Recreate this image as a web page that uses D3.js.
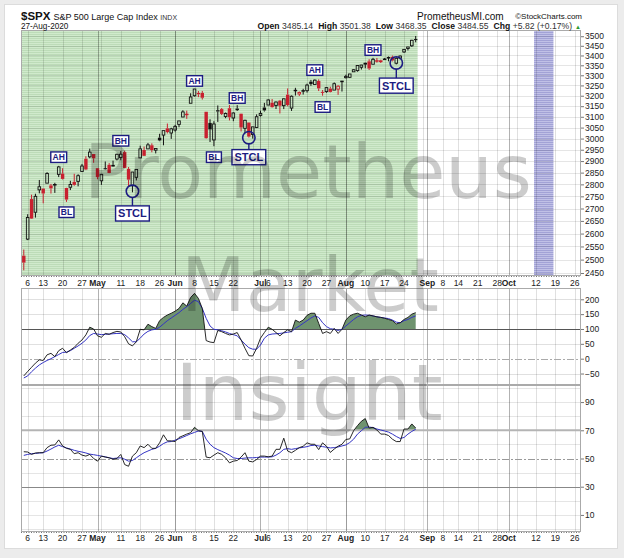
<!DOCTYPE html>
<html>
<head>
<meta charset="utf-8">
<script src="https://cdn.jsdelivr.net/npm/d3@7"></script>
<style>
  html, body { margin: 0; padding: 0; background: #ececec; }
  svg { display: block; }
  .axis text { font-family: "Liberation Sans", Arial, sans-serif; font-size: 8.5px; fill: #222; }
  .axis path { display: none; }
  .axis line { stroke: #777; }
  .hdr { font-family: "Liberation Sans", Arial, sans-serif; fill: #111; }
  .tick-label { font-family: "Liberation Sans", Arial, sans-serif; font-size: 8.5px; fill: #222; }
  .watermark { font-family: "DejaVu Sans", sans-serif; fill: #000; fill-opacity: 0.2; pointer-events: none; }
</style>
</head>
<body>
<div id="chart"></div>
<script>
// ---- trading calendar ----
const firstSession = '2020-04-03';
const lastSession = '2020-10-30';
const holidays = ['2020-04-10', '2020-05-25', '2020-07-03', '2020-09-07'];

// ---- $SPX daily candles, Apr 3 .. Aug 27 2020 ----
const prevClose = 2526.90;
const opens = [
  2514.92, 2578.28, 2738.65, 2685.00, 2776.99, 2782.46, 2805.10, 2795.64, 2799.34, 2842.43,
  2845.62, 2784.81, 2787.89, 2810.42, 2812.64, 2854.65, 2909.96, 2918.46, 2930.91, 2869.09,
  2815.01, 2868.88, 2883.14, 2878.26, 2908.83, 2915.46, 2939.50, 2865.86, 2794.54, 2829.95,
  2913.86, 2948.59, 2953.63, 2969.95, 2948.05, 3004.08, 3015.65, 3046.61, 3025.17, 3038.78,
  3064.78, 3098.90, 3111.56, 3163.84, 3199.92, 3213.32, 3213.42, 3123.53, 3071.04, 2993.76,
  3131.00, 3136.13, 3101.64, 3140.29, 3094.42, 3138.70, 3114.40, 3046.60, 3073.20, 3018.59,
  3050.20, 3105.92, 3143.64, 3155.29, 3166.44, 3153.07, 3176.17, 3152.47, 3205.08, 3141.11,
  3225.98, 3208.36, 3224.21, 3224.29, 3268.52, 3254.86, 3271.64, 3218.58, 3219.84, 3234.27,
  3227.22, 3231.76, 3270.45, 3288.26, 3289.92, 3317.37, 3323.17, 3340.05, 3356.04, 3370.34,
  3355.46, 3372.95, 3368.66, 3380.86, 3387.04, 3392.51, 3360.48, 3386.01, 3418.09, 3435.95,
  3449.97, 3485.14
];
const highs = [
  2538.18, 2676.85, 2756.89, 2760.75, 2818.57, 2782.46, 2851.85, 2801.88, 2806.51, 2879.22,
  2868.98, 2785.54, 2815.10, 2844.90, 2842.71, 2887.72, 2921.15, 2954.86, 2930.91, 2869.09,
  2844.24, 2898.23, 2891.11, 2901.92, 2932.16, 2944.25, 2945.82, 2874.14, 2852.80, 2865.01,
  2968.09, 2964.21, 2980.29, 2978.50, 2956.76, 3021.72, 3036.25, 3068.67, 3049.17, 3062.18,
  3081.07, 3130.94, 3128.91, 3211.72, 3233.13, 3222.71, 3223.27, 3123.53, 3088.42, 3079.76,
  3153.45, 3141.16, 3120.00, 3155.53, 3120.92, 3154.90, 3115.01, 3086.25, 3073.73, 3053.89,
  3111.51, 3128.44, 3165.81, 3182.59, 3184.15, 3171.80, 3179.78, 3186.82, 3235.32, 3200.95,
  3238.28, 3220.39, 3233.52, 3258.61, 3277.29, 3279.32, 3279.99, 3227.26, 3241.43, 3243.72,
  3264.74, 3250.92, 3272.17, 3302.73, 3306.84, 3330.77, 3351.03, 3352.54, 3363.29, 3381.01,
  3387.89, 3387.24, 3378.51, 3387.59, 3395.06, 3399.54, 3390.80, 3399.96, 3432.09, 3444.21,
  3481.07, 3501.38
];
const lows = [
  2459.96, 2574.57, 2657.67, 2663.30, 2762.36, 2721.17, 2805.10, 2761.54, 2764.32, 2830.88,
  2820.43, 2727.10, 2775.95, 2794.26, 2791.76, 2852.89, 2860.71, 2912.16, 2892.47, 2821.61,
  2797.85, 2863.55, 2847.65, 2876.48, 2902.88, 2903.44, 2869.59, 2793.15, 2766.64, 2816.78,
  2913.86, 2922.35, 2953.63, 2938.57, 2933.59, 2988.17, 2969.75, 3023.40, 2998.61, 3031.54,
  3051.64, 3098.90, 3090.41, 3163.84, 3196.00, 3193.11, 3181.49, 2999.49, 2984.47, 2965.66,
  3076.06, 3108.03, 3093.51, 3083.11, 3079.39, 3127.12, 3032.13, 3024.01, 3004.63, 2999.74,
  3047.83, 3101.17, 3124.52, 3155.29, 3142.93, 3136.53, 3115.70, 3136.22, 3149.43, 3127.66,
  3200.76, 3198.59, 3205.65, 3215.16, 3247.77, 3253.10, 3222.66, 3200.05, 3214.25, 3216.17,
  3227.22, 3204.13, 3220.26, 3284.53, 3286.37, 3317.37, 3318.14, 3328.72, 3335.44, 3326.44,
  3355.46, 3363.35, 3361.64, 3379.22, 3370.15, 3369.66, 3354.69, 3379.31, 3413.13, 3425.84,
  3444.15, 3468.35
];
const closes = [
  2488.65, 2663.68, 2659.41, 2749.98, 2789.82, 2761.63, 2846.06, 2783.36, 2799.55, 2874.56,
  2823.16, 2736.56, 2799.31, 2797.80, 2836.74, 2878.48, 2863.39, 2939.51, 2912.43, 2830.71,
  2842.74, 2868.44, 2848.42, 2881.19, 2929.80, 2930.32, 2870.12, 2820.00, 2852.50, 2863.70,
  2953.91, 2922.94, 2971.61, 2948.51, 2955.45, 2991.77, 3036.13, 3029.73, 3044.31, 3055.73,
  3080.82, 3122.87, 3112.35, 3193.93, 3232.39, 3207.18, 3190.14, 3002.10, 3041.31, 3066.59,
  3124.74, 3113.49, 3115.34, 3097.74, 3117.86, 3131.29, 3050.33, 3083.76, 3009.05, 3053.24,
  3100.29, 3115.86, 3130.01, 3179.72, 3145.32, 3169.94, 3152.05, 3185.04, 3155.22, 3197.52,
  3226.56, 3215.57, 3224.73, 3251.84, 3257.30, 3276.02, 3235.66, 3215.63, 3239.41, 3218.44,
  3258.44, 3246.22, 3271.12, 3294.61, 3306.51, 3327.77, 3349.16, 3351.28, 3360.47, 3333.69,
  3380.35, 3373.43, 3372.85, 3381.99, 3389.78, 3374.85, 3385.51, 3397.16, 3431.28, 3443.62,
  3478.73, 3484.55
];

// ---- middle panel oscillator (black) and its signal (blue) ----
const oscValues = [
  -58, -43, -29, -15, -4, -6, 13, 18, 7, 27,
  35, 20, 29, 38, 52, 63, 80, 106, 100, 77,
  72, 85, 82, 88, 92, 90, 74, 50, 43, 57,
  99, 97, 116, 108, 102, 128, 139, 147, 153, 160,
  169, 188, 177, 206, 220, 203, 169, 61, 56, 54,
  95, 91, 85, 80, 83, 88, 63, 35, 10, 9,
  35, 69, 88, 106, 99, 88, 77, 88, 97, 91,
  130, 123, 130, 146, 153, 153, 119, 85, 91, 85,
  102, 85, 99, 130, 144, 150, 153, 147, 141, 147,
  144, 141, 139, 136, 132, 128, 117, 121, 132, 139,
  150, 155
];
const oscSignal = [
  -65, -58, -44, -32, -21, -13, -6, 0, 7, 14,
  21, 22, 27, 35, 43, 52, 63, 78, 85, 83,
  81, 82, 83, 84, 85, 85, 81, 70, 57, 57,
  69, 83, 92, 97, 99, 106, 117, 128, 137, 146,
  155, 166, 175, 186, 197, 192, 169, 136, 110, 99,
  97, 94, 90, 85, 81, 77, 63, 49, 37, 32,
  32, 46, 69, 80, 83, 84, 85, 87, 89, 91,
  102, 110, 119, 128, 137, 144, 139, 121, 108, 101,
  99, 95, 99, 110, 121, 132, 141, 146, 147, 146,
  144, 141, 139, 137, 135, 130, 123, 121, 128, 132,
  139, 144
];

// ---- lower panel RSI (black) and its signal (blue) ----
const rsiValues = [
  54.8, 54.6, 52.9, 53.9, 54.1, 54.1, 57.7, 59.4, 59.6, 63.2,
  58.9, 57.2, 56.5, 53.4, 54.1, 52.4, 51.7, 52.9, 50.0, 48.1,
  51.7, 51.0, 50.5, 49.5, 50.0, 52.9, 45.7, 44.5, 51.7, 54.1,
  58.9, 57.7, 60.1, 57.2, 57.2, 61.1, 66.8, 62.5, 62.5, 62.0,
  64.9, 66.1, 67.3, 68.3, 72.1, 69.7, 69.2, 51.0, 50.5, 52.4,
  54.1, 52.9, 50.5, 46.9, 48.1, 48.6, 51.0, 54.1, 48.1, 47.6,
  49.3, 51.7, 51.7, 51.2, 51.7, 56.5, 56.5, 64.4, 55.3, 54.1,
  55.8, 57.7, 58.7, 61.1, 60.1, 60.1, 56.3, 61.1, 58.7, 54.3,
  56.7, 58.7, 60.1, 63.5, 63.9, 69.7, 73.3, 76.4, 78.3, 71.6,
  72.1, 70.2, 67.3, 67.3, 66.3, 63.7, 62.0, 62.0, 70.9, 70.9,
  74.5, 71.6
];
const rsiSignal = [
  52.2, 52.9, 53.4, 53.6, 53.9, 54.1, 55.3, 56.7, 58.2, 59.4,
  58.4, 57.5, 56.7, 55.8, 55.1, 54.6, 53.9, 53.1, 52.7, 52.2,
  51.7, 51.2, 50.5, 50.0, 50.3, 50.5, 49.5, 48.1, 48.6, 50.5,
  52.4, 54.1, 55.3, 56.5, 57.2, 58.7, 60.6, 61.8, 62.0, 63.0,
  64.0, 65.1, 66.3, 67.5, 68.5, 69.5, 69.2, 63.7, 60.1, 57.7,
  56.3, 55.1, 53.9, 52.4, 50.5, 50.0, 50.0, 50.3, 50.5, 50.5,
  50.7, 51.0, 51.0, 51.0, 51.2, 52.4, 54.1, 56.5, 57.0, 56.5,
  57.0, 57.5, 57.9, 58.4, 59.2, 59.4, 58.9, 58.4, 58.0, 57.5,
  57.7, 58.2, 58.9, 59.6, 61.3, 63.7, 67.3, 69.7, 72.1, 72.3,
  71.9, 70.9, 70.2, 69.5, 68.7, 67.3, 65.6, 64.2, 64.9, 67.3,
  69.2, 70.7
];

// ---- chart annotations ----
const noteLabels = ['AH', 'BL', 'BH', 'AH', 'BL', 'BH', 'AH', 'BL', 'BH'];
const noteDates = ['2020-04-17', '2020-04-21', '2020-05-11', '2020-06-08', '2020-06-15',
                   '2020-06-23', '2020-07-22', '2020-07-24', '2020-08-12'];
const notePrices = [2917, 2685, 2990, 3272, 2917, 3189, 3326, 3146, 3428];
const stclDates = ['2020-05-14', '2020-06-26', '2020-08-20'];
const stclLows = [2771, 3004, 3362];
const stclBoxPrices = [2680, 2917, 3249];

// ---- axes ----
const tickDates = ['2020-04-06', '2020-04-13', '2020-04-20', '2020-04-27', '2020-05-01', '2020-05-11',
  '2020-05-18', '2020-05-26', '2020-06-01', '2020-06-08', '2020-06-15', '2020-06-22', '2020-07-01',
  '2020-07-06', '2020-07-13', '2020-07-20', '2020-07-27', '2020-08-03', '2020-08-10', '2020-08-17',
  '2020-08-24', '2020-09-01', '2020-09-08', '2020-09-14', '2020-09-21', '2020-09-28', '2020-10-01',
  '2020-10-12', '2020-10-19', '2020-10-26'];
const tickLabels = ['6', '13', '20', '27', 'May', '11', '18', '26', 'Jun', '8', '15', '22', 'Jul',
  '6', '13', '20', '27', 'Aug', '10', '17', '24', 'Sep', '8', '14', '21', '28', 'Oct', '12', '19', '26'];
const monthLabels = ['May', 'Jun', 'Jul', 'Aug', 'Sep', 'Oct'];
const priceTicks = [2450, 2500, 2550, 2600, 2650, 2700, 2750, 2800, 2850, 2900, 2950, 3000,
  3050, 3100, 3150, 3200, 3250, 3300, 3350, 3400, 3450, 3500];
const oscTicks = [-50, 0, 50, 100, 150, 200];
const rsiTicks = [10, 30, 50, 70, 90];
const rsiGrid = [0, 10, 20, 30, 40, 50, 60, 70, 80, 90, 100];
const bandStart = '2020-10-12';
const bandEnd = '2020-10-16';

// ---- calendar helpers ----
const fmtDay = d3.utcFormat('%Y-%m-%d');
const parseDay = d3.utcParse('%Y-%m-%d');
const sessions = d3.utcDays(parseDay(firstSession), d3.utcDay.offset(parseDay(lastSession), 1))
  .filter(d => d.getUTCDay() % 6 !== 0 && !holidays.includes(fmtDay(d)));
const sessionIndex = new Map(sessions.map((d, i) => [fmtDay(d), i]));
const at = s => sessionIndex.get(s);

const weekStarts = sessions.map((d, i) => i).filter(i => i > 0 &&
  +d3.utcMonday.floor(sessions[i]) !== +d3.utcMonday.floor(sessions[i - 1]));
const monthStarts = sessions.map((d, i) => i).filter(i => i > 0 &&
  sessions[i].getUTCMonth() !== sessions[i - 1].getUTCMonth());

// ---- layout ----
const width = 624;
const height = 558;
const plot = { left: 21, right: 581 };
const pricePanel = { top: 30, bottom: 276 };
const oscPanel = { top: 288, bottom: 385 };
const rsiPanel = { top: 385, bottom: 532 };

const navy = '#1c1c82';
const red = '#c8202f';

const x = d3.scaleLinear().domain([-0.72, 143.6]).range([plot.left, plot.right]);
const yPrice = d3.scaleLog().domain([2439, 3533]).range([pricePanel.bottom, pricePanel.top]);
const yOsc = d3.scaleLinear().domain([-88.6, 238]).range([oscPanel.bottom, oscPanel.top]);
const yRsi = d3.scaleLinear().domain([-2.1, 102.1]).range([rsiPanel.bottom, rsiPanel.top]);

const svg = d3.select('#chart').append('svg')
  .attr('width', width)
  .attr('height', height);

const defs = svg.append('defs');

const greenPattern = defs.append('pattern')
  .attr('id', 'greenStripes')
  .attr('patternUnits', 'userSpaceOnUse')
  .attr('width', 8).attr('height', 2);
greenPattern.append('rect').attr('width', 8).attr('height', 2).attr('fill', '#d0eacc');
greenPattern.append('rect').attr('width', 8).attr('height', 1).attr('fill', '#bddcb8');

const purplePattern = defs.append('pattern')
  .attr('id', 'purpleStripes')
  .attr('patternUnits', 'userSpaceOnUse')
  .attr('width', 8).attr('height', 2);
purplePattern.append('rect').attr('width', 8).attr('height', 2).attr('fill', '#c0c0e6');
purplePattern.append('rect').attr('width', 8).attr('height', 1).attr('fill', '#a2a2d6');

[['clipPrice', pricePanel], ['clipOsc', oscPanel], ['clipRsi', rsiPanel]].forEach(([id, p]) => {
  defs.append('clipPath').attr('id', id).append('rect')
    .attr('x', plot.left).attr('y', p.top)
    .attr('width', plot.right - plot.left).attr('height', p.bottom - p.top);
});
defs.append('clipPath').attr('id', 'clipOscAbove').append('rect')
  .attr('x', plot.left).attr('y', oscPanel.top)
  .attr('width', plot.right - plot.left).attr('height', yOsc(100) - oscPanel.top);
defs.append('clipPath').attr('id', 'clipRsiAbove').append('rect')
  .attr('x', plot.left).attr('y', rsiPanel.top)
  .attr('width', plot.right - plot.left).attr('height', yRsi(70) - rsiPanel.top);

// frame
svg.append('rect')
  .attr('x', 4.5).attr('y', 4.5)
  .attr('width', 613).attr('height', 544)
  .attr('fill', '#fff')
  .attr('stroke', '#dcdcdc');

// ---- price panel backgrounds ----
svg.append('rect')
  .attr('x', plot.left)
  .attr('y', pricePanel.top)
  .attr('width', x(closes.length - 0.5) - plot.left)
  .attr('height', pricePanel.bottom - pricePanel.top)
  .attr('fill', 'url(#greenStripes)');

svg.append('rect')
  .attr('x', x(at(bandStart) - 0.5))
  .attr('y', pricePanel.top)
  .attr('width', x(at(bandEnd) + 0.5) - x(at(bandStart) - 0.5))
  .attr('height', pricePanel.bottom - pricePanel.top)
  .attr('fill', 'url(#purpleStripes)');

// ---- grid ----
const grid = svg.append('g').attr('class', 'grid');

[pricePanel, oscPanel, rsiPanel].forEach(p => {
  grid.append('g').selectAll('line')
    .data(weekStarts)
    .join('line')
    .attr('x1', d => Math.round(x(d)) + 0.5)
    .attr('x2', d => Math.round(x(d)) + 0.5)
    .attr('y1', p.top)
    .attr('y2', p.bottom)
    .attr('stroke', '#000')
    .attr('stroke-opacity', 0.12);

  grid.append('g').selectAll('line')
    .data(monthStarts)
    .join('line')
    .attr('x1', d => Math.round(x(d)) + 0.5)
    .attr('x2', d => Math.round(x(d)) + 0.5)
    .attr('y1', p.top)
    .attr('y2', p.bottom)
    .attr('stroke', '#000')
    .attr('stroke-opacity', 0.3);
});

grid.append('g').selectAll('line')
  .data(priceTicks)
  .join('line')
  .attr('x1', plot.left).attr('x2', plot.right)
  .attr('y1', d => Math.round(yPrice(d)) + 0.5)
  .attr('y2', d => Math.round(yPrice(d)) + 0.5)
  .attr('stroke', '#000')
  .attr('stroke-opacity', 0.1);

grid.append('g').selectAll('line')
  .data(oscTicks.filter(v => v !== 100 && v !== 0))
  .join('line')
  .attr('x1', plot.left).attr('x2', plot.right)
  .attr('y1', d => Math.round(yOsc(d)) + 0.5)
  .attr('y2', d => Math.round(yOsc(d)) + 0.5)
  .attr('stroke', '#000')
  .attr('stroke-opacity', 0.12);

grid.append('g').selectAll('line')
  .data(rsiGrid.filter(v => v !== 70 && v !== 50 && v !== 30))
  .join('line')
  .attr('x1', plot.left).attr('x2', plot.right)
  .attr('y1', d => Math.round(yRsi(d)) + 0.5)
  .attr('y2', d => Math.round(yRsi(d)) + 0.5)
  .attr('stroke', '#000')
  .attr('stroke-opacity', 0.1);

// ---- candles ----
const candles = opens.map((o, k) => ({
  k, o, h: highs[k], l: lows[k], c: closes[k],
  prev: k ? closes[k - 1] : prevClose,
}));

const bodyW = 2.6;
const candleG = svg.append('g').attr('clip-path', 'url(#clipPrice)');

candleG.selectAll('g.candle')
  .data(candles)
  .join('g')
  .attr('class', 'candle')
  .each(function (d) {
    const g = d3.select(this);
    const cx = x(d.k);
    const color = d.c < d.prev ? red : '#111';
    const top = yPrice(Math.max(d.o, d.c));
    const bottom = yPrice(Math.min(d.o, d.c));
    const filled = d.c < d.o;

    g.append('line')
      .attr('x1', cx).attr('x2', cx)
      .attr('y1', yPrice(d.h)).attr('y2', top)
      .attr('stroke', color).attr('stroke-width', 1);
    g.append('line')
      .attr('x1', cx).attr('x2', cx)
      .attr('y1', bottom).attr('y2', yPrice(d.l))
      .attr('stroke', color).attr('stroke-width', 1);

    if (filled) {
      g.append('rect')
        .attr('x', cx - bodyW / 2 - 0.4)
        .attr('y', top)
        .attr('width', bodyW + 0.8)
        .attr('height', Math.max(1, bottom - top))
        .attr('fill', color);
    } else {
      g.append('rect')
        .attr('x', cx - bodyW / 2)
        .attr('y', top)
        .attr('width', bodyW)
        .attr('height', Math.max(0.6, bottom - top))
        .attr('fill', 'none')
        .attr('stroke', color)
        .attr('stroke-width', 0.9);
    }
  });

// ---- annotations ----
const notes = svg.append('g').attr('class', 'notes');

function labelBox(g, cx, cy, text, size, padX, padY) {
  const t = g.append('text')
    .attr('x', cx)
    .attr('y', cy)
    .attr('text-anchor', 'middle')
    .attr('dominant-baseline', 'central')
    .attr('font-family', '"Liberation Sans", Arial, sans-serif')
    .attr('font-weight', 'bold')
    .attr('font-size', size)
    .attr('fill', navy)
    .text(text);
  const w = t.node().getComputedTextLength();
  const h = size * 0.72;
  g.insert('rect', 'text')
    .attr('x', cx - w / 2 - padX)
    .attr('y', cy - h / 2 - padY)
    .attr('width', w + padX * 2)
    .attr('height', h + padY * 2)
    .attr('fill', '#fff')
    .attr('stroke', navy)
    .attr('stroke-width', 1.4);
}

noteLabels.forEach((label, i) => {
  const g = notes.append('g');
  labelBox(g, x(at(noteDates[i])), yPrice(notePrices[i]), label, 8.5, 1.8, 2.2);
});

stclDates.forEach((date, i) => {
  const g = notes.append('g');
  const cx = x(at(date));
  const cy = yPrice(stclLows[i]);
  const by = yPrice(stclBoxPrices[i]);
  const r = 6.2;
  g.append('line')
    .attr('x1', cx).attr('x2', cx)
    .attr('y1', cy + r).attr('y2', by - 7)
    .attr('stroke', navy).attr('stroke-width', 1.4);
  g.append('circle')
    .attr('cx', cx).attr('cy', cy).attr('r', r)
    .attr('fill', 'none')
    .attr('stroke', navy).attr('stroke-width', 1.6);
  labelBox(g, cx, by, 'STCL', 11, 2.5, 3.6);
});

// ---- oscillator panel ----
const oscG = svg.append('g').attr('clip-path', 'url(#clipOsc)');

oscG.append('line')
  .attr('x1', plot.left).attr('x2', plot.right)
  .attr('y1', Math.round(yOsc(0)) + 0.5).attr('y2', Math.round(yOsc(0)) + 0.5)
  .attr('stroke', '#aaa')
  .attr('stroke-dasharray', '7,2,2,2');

oscG.append('path')
  .datum(oscValues)
  .attr('clip-path', 'url(#clipOscAbove)')
  .attr('fill', '#6f936f')
  .attr('d', d3.area().x((d, k) => x(k)).y0(yOsc(100)).y1(d => yOsc(d)));

oscG.append('line')
  .attr('x1', plot.left).attr('x2', plot.right)
  .attr('y1', Math.round(yOsc(100)) + 0.5).attr('y2', Math.round(yOsc(100)) + 0.5)
  .attr('stroke', '#555');

oscG.append('path')
  .datum(oscSignal)
  .attr('fill', 'none')
  .attr('stroke', '#3434c4')
  .attr('stroke-width', 1)
  .attr('d', d3.line().x((d, k) => x(k)).y(d => yOsc(d)));

oscG.append('path')
  .datum(oscValues)
  .attr('fill', 'none')
  .attr('stroke', '#111')
  .attr('stroke-width', 0.9)
  .attr('d', d3.line().x((d, k) => x(k)).y(d => yOsc(d)));

// ---- RSI panel ----
const rsiG = svg.append('g').attr('clip-path', 'url(#clipRsi)');

rsiG.append('line')
  .attr('x1', plot.left).attr('x2', plot.right)
  .attr('y1', Math.round(yRsi(50)) + 0.5).attr('y2', Math.round(yRsi(50)) + 0.5)
  .attr('stroke', '#999')
  .attr('stroke-dasharray', '7,2,2,2');

rsiG.append('line')
  .attr('x1', plot.left).attr('x2', plot.right)
  .attr('y1', Math.round(yRsi(30)) + 0.5).attr('y2', Math.round(yRsi(30)) + 0.5)
  .attr('stroke', '#888');

rsiG.append('path')
  .datum(rsiValues)
  .attr('clip-path', 'url(#clipRsiAbove)')
  .attr('fill', '#6f936f')
  .attr('d', d3.area().x((d, k) => x(k)).y0(yRsi(70)).y1(d => yRsi(d)));

rsiG.append('line')
  .attr('x1', plot.left).attr('x2', plot.right)
  .attr('y1', yRsi(70)).attr('y2', yRsi(70))
  .attr('stroke', '#b4b4b4')
  .attr('stroke-width', 2);

rsiG.append('path')
  .datum(rsiSignal)
  .attr('fill', 'none')
  .attr('stroke', '#3434c4')
  .attr('stroke-width', 1)
  .attr('d', d3.line().x((d, k) => x(k)).y(d => yRsi(d)));

rsiG.append('path')
  .datum(rsiValues)
  .attr('fill', 'none')
  .attr('stroke', '#111')
  .attr('stroke-width', 0.9)
  .attr('d', d3.line().x((d, k) => x(k)).y(d => yRsi(d)));

// ---- panel borders ----
[pricePanel, oscPanel, rsiPanel].forEach(p => {
  svg.append('rect')
    .attr('x', plot.left + 0.5).attr('y', p.top + 0.5)
    .attr('width', plot.right - plot.left - 1)
    .attr('height', p.bottom - p.top - 1)
    .attr('fill', 'none')
    .attr('stroke', '#aaa');
});
[pricePanel.bottom, rsiPanel.bottom].forEach(yy => {
  svg.append('line')
    .attr('x1', plot.left).attr('x2', plot.right)
    .attr('y1', yy + 0.5).attr('y2', yy + 0.5)
    .attr('stroke', '#fff');
  svg.append('line')
    .attr('x1', plot.left).attr('x2', plot.right)
    .attr('y1', yy + 0.5).attr('y2', yy + 0.5)
    .attr('stroke', '#777')
    .attr('stroke-dasharray', '1,1.5');
});

// ---- right axes ----
svg.append('g')
  .attr('class', 'axis')
  .attr('transform', `translate(${plot.right}, 0)`)
  .call(d3.axisRight(yPrice).tickValues(priceTicks).tickFormat(d3.format('d')).tickSize(3).tickPadding(1));

svg.append('g')
  .attr('class', 'axis')
  .attr('transform', `translate(${plot.right}, 0)`)
  .call(d3.axisRight(yOsc).tickValues(oscTicks).tickSize(3).tickPadding(1));

svg.append('g')
  .attr('class', 'axis')
  .attr('transform', `translate(${plot.right}, 0)`)
  .call(d3.axisRight(yRsi).tickValues(rsiTicks).tickSize(3).tickPadding(1));

// ---- date labels ----
[pricePanel.bottom + 9.5, rsiPanel.bottom + 9.2].forEach(yy => {
  svg.append('g').selectAll('text')
    .data(tickDates)
    .join('text')
    .attr('class', 'tick-label')
    .attr('x', d => x(at(d)))
    .attr('y', yy)
    .attr('text-anchor', 'middle')
    .attr('font-weight', (d, i) => monthLabels.includes(tickLabels[i]) ? 'bold' : 'normal')
    .attr('font-size', (d, i) => monthLabels.includes(tickLabels[i]) ? '9px' : '8.5px')
    .text((d, i) => tickLabels[i]);
});

// ---- watermark ----
const wm = svg.append('g').attr('class', 'watermark').attr('text-anchor', 'middle');
wm.append('text').attr('x', 308).attr('y', 198).attr('font-size', 75).text('Prometheus');
wm.append('text').attr('x', 310).attr('y', 311).attr('font-size', 75).text('Market');
wm.append('text').attr('x', 309).attr('y', 420).attr('font-size', 79).text('Insight');

// ---- header ----
const last = candles[candles.length - 1];
const chg = last.c - last.prev;
const f2 = d3.format('.2f');

const title = svg.append('text').attr('class', 'hdr').attr('x', 21).attr('y', 19.5);
title.append('tspan').attr('font-weight', 'bold').attr('font-size', 11.5).text('$SPX');
title.append('tspan').attr('dx', 3).attr('font-size', 9).text('S&P 500 Large Cap Index');
title.append('tspan').attr('dx', 2.5).attr('font-size', 7).attr('fill', '#333').text('INDX');

svg.append('text').attr('class', 'hdr')
  .attr('x', 21).attr('y', 29)
  .attr('font-size', 8.2)
  .text(d3.utcFormat('%d-%b-%Y')(sessions[last.k]));

svg.append('text').attr('class', 'hdr')
  .attr('x', 417).attr('y', 19.5)
  .attr('font-size', 10)
  .attr('fill', '#3a3a94')
  .text('PrometheusMI.com');

svg.append('text').attr('class', 'hdr')
  .attr('x', 582).attr('y', 19)
  .attr('text-anchor', 'end')
  .attr('font-size', 8)
  .attr('fill', '#666')
  .text('\u00A9StockCharts.com');

const quote = svg.append('text').attr('class', 'hdr')
  .attr('x', 581).attr('y', 29)
  .attr('text-anchor', 'end')
  .attr('font-size', 8.6);
[['Open', last.o], ['High', last.h], ['Low', last.l], ['Close', last.c]].forEach(([k, v], i) => {
  quote.append('tspan').attr('dx', i ? 5 : 0).attr('font-weight', 'bold').text(k);
  quote.append('tspan').attr('dx', 2.5).attr('fill', '#333').text(f2(v));
});
quote.append('tspan').attr('dx', 5).attr('font-weight', 'bold').text('Chg');
quote.append('tspan').attr('dx', 2.5).attr('fill', '#333')
  .text(`${chg >= 0 ? '+' : ''}${f2(chg)} (${chg >= 0 ? '+' : ''}${f2(chg / last.prev * 100)}%)`);
quote.append('tspan').attr('dx', 3).attr('font-size', 6).attr('fill', '#2d9a2d').text('\u25B2');
</script>
</body>
</html>
